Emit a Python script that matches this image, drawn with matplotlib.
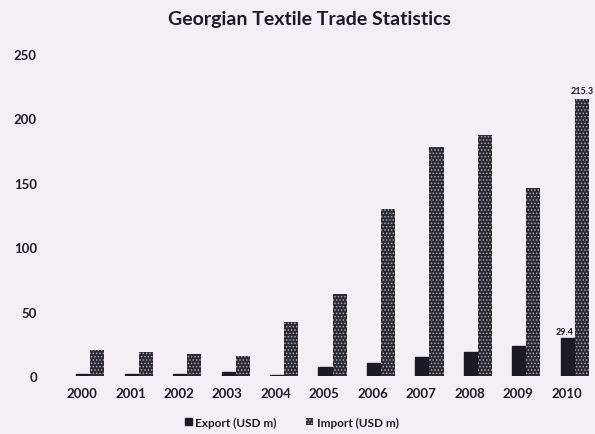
import matplotlib.pyplot as plt
import numpy as np
from matplotlib.patches import Patch

# Georgian textile trade, USD m
years = ['2000', '2001', '2002', '2003', '2004', '2005',
         '2006', '2007', '2008', '2009', '2010']
export_usd = [1.5, 1.5, 1.5, 3.0, 1.2, 7.0, 10.0, 15.0, 19.0, 23.0, 29.4]
import_usd = [20.0, 19.0, 17.0, 16.0, 42.0, 64.0, 130.0, 178.0, 187.0, 146.0, 215.3]
y_ticks = [0, 50, 100, 150, 200, 250]

plt.rcParams['font.family'] = ['Lato', 'DejaVu Sans']
plt.rcParams['hatch.linewidth'] = 0.7

bg = '#f4eff4'
dark = '#1b1a26'
fig = plt.figure(figsize=(5.95, 4.35), dpi=100, facecolor=bg)
ax = fig.add_axes([0.097, 0.133, 0.896, 0.741], facecolor=bg)

x = np.arange(len(years))
w = 0.29
off = 0.17
b_exp = ax.bar(x - w / 2 + off, export_usd, w, color=dark, edgecolor=dark)
b_imp = ax.bar(x + w / 2 + off, import_usd, w, color='#2a2932',
               edgecolor='#a9a6b0', hatch='.....', linewidth=0)

# only the 2010 values carry data labels in the original
ax.text(x[-1] - w / 2 + off - 0.06, export_usd[-1] + 2, f'{export_usd[-1]:.1f}',
        ha='center', va='bottom', fontsize=6.5, fontweight='bold', color=dark)
ax.text(x[-1] + w / 2 + off, import_usd[-1] + 3, f'{import_usd[-1]:.1f}',
        ha='center', va='bottom', fontsize=6.5, fontweight='bold', color=dark)

ax.set_xlim(-0.5, len(years) - 0.5)
ax.set_ylim(0, 250)
ax.set_xticks(x)
ax.set_xticklabels(years)
ax.set_yticks(y_ticks)
ax.tick_params(length=0, labelsize=9.5, colors=dark)
ax.tick_params(axis='y', pad=15)
ax.tick_params(axis='x', pad=8)
for lbl in ax.get_xticklabels() + ax.get_yticklabels():
    lbl.set_fontweight('bold')
for s in ax.spines.values():
    s.set_visible(False)

fig.suptitle('Georgian Textile Trade Statistics', x=0.52, y=0.975,
             fontsize=14, fontweight='bold', color=dark)

handles = [Patch(facecolor=dark, edgecolor=dark),
           Patch(facecolor='#2a2932', edgecolor='#a9a6b0', hatch='.....', linewidth=0)]
fig.legend(handles, ['Export (USD m)', 'Import (USD m)'], loc='lower center',
           bbox_to_anchor=(0.49, -0.01), ncol=2, frameon=False,
           prop={'size': 8.5, 'weight': 'bold'}, handlelength=0.6, handleheight=0.6,
           handletextpad=0.3, columnspacing=2.5, labelcolor=dark)

fig.savefig('out.png', dpi=100, facecolor=bg)
